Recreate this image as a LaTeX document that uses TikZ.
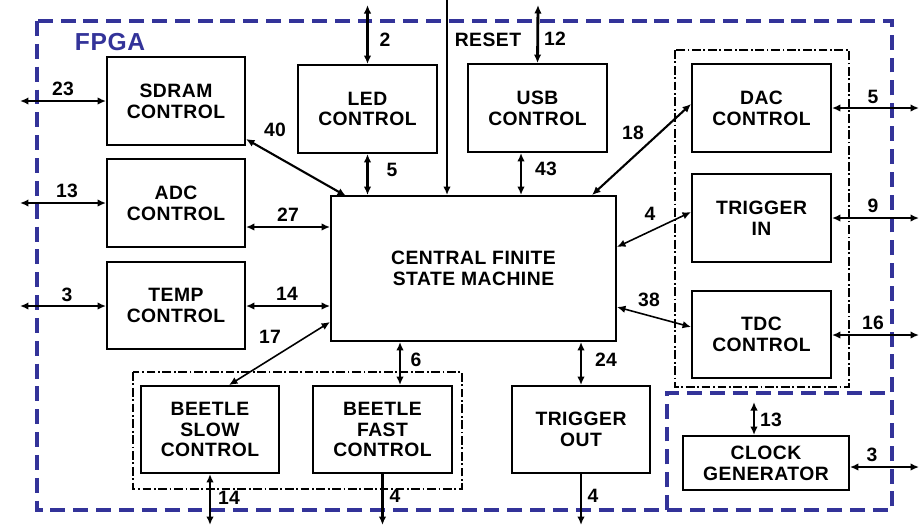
\documentclass[tikz,border=0pt]{standalone}
\usepackage{fontspec}
\setmainfont{Liberation Sans}[LetterSpace=2.5]
\usetikzlibrary{arrows.meta}
\definecolor{fpgablue}{RGB}{51,51,153}
\begin{document}
\begin{tikzpicture}[x=0.02cm,y=-0.02cm,
  txt/.style={font=\bfseries\fontsize{11}{11.8}\selectfont},
  blk/.style={draw,line width=1.1pt,inner sep=0pt,align=center,txt},
  lbl/.style={inner sep=0pt,txt},
  fpga/.style={draw=fpgablue,line width=1.9pt,dash pattern=on 8.5pt off 4.5pt},
  grp/.style={draw,line width=1.1pt,dash pattern=on 5pt off 1.5pt on 1pt off 1.5pt},
  ah/.tip={Latex[length=1.7mm,width=1.5mm]},
  one/.style={-ah},
  two/.style={ah-ah},
  thk/.style={line width=1.6pt},
  med/.style={line width=1.2pt},
  thn/.style={line width=0.9pt}
]
\useasboundingbox (0,0) rectangle (922,525);

% enclosures
\draw[fpga] (37,21) rectangle (892,510);
\draw[fpga] (667,510) -- (667,393) -- (892,393);
\node[lbl,text=fpgablue,font=\bfseries\fontsize{14}{16}\selectfont] (fpgalbl) at (110,42) {FPGA};
\draw[grp] (675,50) rectangle (849,387);
\draw[grp] (133,372) rectangle (462,489);

% blocks
\node[blk,minimum width=2.76cm,minimum height=1.76cm] (sdram) at (176,101) {SDRAM\\CONTROL};
\node[blk,minimum width=2.76cm,minimum height=1.76cm] (adc) at (176,203) {ADC\\CONTROL};
\node[blk,minimum width=2.76cm,minimum height=1.74cm] (temp) at (176,305.5) {TEMP\\CONTROL};
\node[blk,minimum width=2.78cm,minimum height=1.76cm] (led) at (367.5,109) {LED\\CONTROL};
\node[blk,minimum width=2.78cm,minimum height=1.76cm] (usb) at (537.5,108) {USB\\CONTROL};
\node[blk,minimum width=5.7cm,minimum height=2.9cm] (fsm) at (473.5,268.5) {CENTRAL FINITE\\STATE MACHINE};
\node[blk,minimum width=2.78cm,minimum height=1.76cm] (dac) at (761.5,108) {DAC\\CONTROL};
\node[blk,minimum width=2.78cm,minimum height=1.76cm] (trigin) at (761.5,218) {TRIGGER\\IN};
\node[blk,minimum width=2.78cm,minimum height=1.74cm] (tdc) at (761.5,334.5) {TDC\\CONTROL};
\node[blk,minimum width=2.76cm,minimum height=1.74cm] (bslow) at (210,429.5) {BEETLE\\SLOW\\CONTROL};
\node[blk,minimum width=2.78cm,minimum height=1.74cm] (bfast) at (382.5,429.5) {BEETLE\\FAST\\CONTROL};
\node[blk,minimum width=2.76cm,minimum height=1.74cm] (trigout) at (581,429.5) {TRIGGER\\OUT};
\node[blk,minimum width=3.32cm,minimum height=1.08cm] (clock) at (766,463) {CLOCK\\GENERATOR};

% free ends
\coordinate (sdramx) at (20,101);
\coordinate (adcx) at (20,203);
\coordinate (tempx) at (20,306);
\coordinate (ledx) at (367.5,5);
\coordinate (resetx) at (447,0);
\coordinate (usbx) at (538,5);
\coordinate (dacx) at (919,108);
\coordinate (trigx) at (919,218);
\coordinate (tdcx) at (919,335);
\coordinate (clockx) at (919,467);
\coordinate (clocktop) at (754,402);
\coordinate (bslowx) at (210,525);
\coordinate (bfastx) at (382.5,525);
\coordinate (trigoutx) at (581,525);

% connectors
\draw[two,med] (sdramx) -- (sdram.west);
\draw[two,med] (adcx) -- (adc.west);
\draw[two,med] (tempx) -- (temp.west |- tempx);
\draw[two,med] (sdram.east |- 0,139) -- (346,196);
\draw[two,thk] (ledx) -- (led.north);
\draw[two,thk] (led.south) -- (led.south |- fsm.north);
\draw[one,thk] (resetx) -- (resetx |- fsm.north);
\draw[two,thk] (usbx) -- (usb.north);
\draw[two,thk] (521,0 |- usb.south) -- (521,0 |- fsm.north);
\draw[two,med] (adc.east |- 0,227) -- (fsm.west |- 0,227);
\draw[two,med] (temp.east |- 0,306) -- (fsm.west |- 0,306);
\draw[two,thn] (fsm.west |- 0,322) -- (229,0 |- bslow.north);
\draw[two,thk] (400,0 |- fsm.south) -- (400,0 |- bfast.north);
\draw[two,thk] (bslow.south) -- (bslowx);
\draw[one,thk] (bfast.south) -- (bfastx);
\draw[two,med] (592,0 |- fsm.north) -- (dac.west |- 0,104);
\draw[two,thn] (fsm.east |- 0,247) -- (trigin.west |- 0,212);
\draw[two,thn] (fsm.east |- 0,307) -- (tdc.west |- 0,327);
\draw[two,thk] (fsm.south -| trigout.north) -- (trigout.north);
\draw[one,thk] (trigout.south) -- (trigoutx);
\draw[two,med] (dac.east) -- (dacx);
\draw[two,med] (trigin.east) -- (trigx);
\draw[two,med] (tdc.east |- tdcx) -- (tdcx);
\draw[two,thk] (clocktop) -- (clocktop |- clock.north);
\draw[two,thn] (clock.east |- clockx) -- (clockx);

% labels
\node[lbl] (l23) at (63,89) {23};
\node[lbl] (l13) at (67,191) {13};
\node[lbl] (l3a) at (67,295) {3};
\node[lbl] (l40) at (275,130) {40};
\node[lbl] (l2) at (385,40) {2};
\node[lbl] (l5a) at (392,170) {5};
\node[lbl] (lreset) at (488,40) {RESET};
\node[lbl] (l12) at (555,39) {12};
\node[lbl] (l43) at (546,169) {43};
\node[lbl] (l27) at (288,215) {27};
\node[lbl] (l14a) at (287,294) {14};
\node[lbl] (l17) at (270,337) {17};
\node[lbl] (l6) at (416,360) {6};
\node[lbl] (l14b) at (229,498) {14};
\node[lbl] (l4a) at (395,496) {4};
\node[lbl] (l18) at (633,133) {18};
\node[lbl] (l4b) at (650,214) {4};
\node[lbl] (l38) at (649,300) {38};
\node[lbl] (l24) at (606,360) {24};
\node[lbl] (l4c) at (593,496) {4};
\node[lbl] (l5b) at (873,97) {5};
\node[lbl] (l9) at (873,206) {9};
\node[lbl] (l16) at (873,323) {16};
\node[lbl] (l13b) at (771,420) {13};
\node[lbl] (l3b) at (872,455) {3};
\end{tikzpicture}
\end{document}
